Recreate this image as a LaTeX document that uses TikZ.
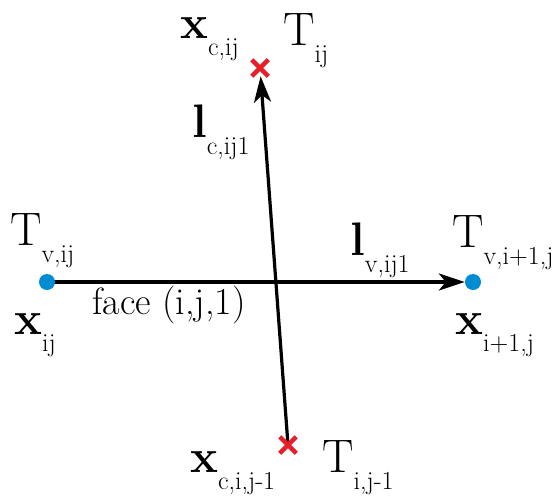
\documentclass[tikz,border=0pt]{standalone}
\usepackage{fontspec}
\usetikzlibrary{arrows.meta,positioning,shapes.misc,backgrounds}

\definecolor{azulpunto}{RGB}{0,140,210}
\definecolor{rojocruz}{RGB}{232,30,40}
\newcommand{\conindice}[2]{#1\raisebox{-17pt}{\fontsize{26}{28}\selectfont #2}}

\begin{document}
\begin{tikzpicture}[x=1pt, y=-1pt,
        punto/.style={circle, fill=azulpunto, inner sep=0, minimum size=16pt},
        cruz/.style={cross out, draw=rojocruz, line width=4.5pt, minimum size=12pt, inner sep=0},
        etiqueta/.style={anchor=base west, inner sep=0, text height=0.7em, font=\fontsize{47}{50}\selectfont},
        flecha/.style={-{Stealth[length=26pt, width=17pt, inset=7pt]}, line width=3.2pt}
    ]
        \useasboundingbox (0,0) rectangle (557,498);

        \node[punto] (xij) at (47,282) {};
        \node[punto] (xi1j) at (473,282) {};
        \node[cruz] (xcij) at (260,68) {};
        \node[cruz] (xcij1) at (288,445) {};

        \node[etiqueta] (tvij) at (10,245) {\conindice{T}{v,ij}};
        \node[etiqueta] (lxij) at (14,334) {\conindice{\textbf{x}}{ij}};
        \node[etiqueta, font=\fontsize{38}{40}\selectfont] (cara) at (92,314) {face (i,j,1)};
        \node[etiqueta] (lvij) at (350,255) {\conindice{\textbf{l}}{v,ij1}};
        \node[etiqueta] (tvi1j) at (452,247) {\conindice{T}{v,i+1,j}};
        \node[etiqueta] (lxi1j) at (455,334) {\conindice{\textbf{x}}{i+1,j}};
        \node[etiqueta] (lxcij) at (180,38) {\conindice{\textbf{x}}{c,ij}};
        \node[etiqueta] (tij) at (283,45) {\conindice{T}{ij}};
        \node[etiqueta] (lcij) at (192,137) {\conindice{\textbf{l}}{c,ij1}};
        \node[etiqueta] (lxcij1) at (190,472) {\conindice{\textbf{x}}{c,i,j-1}};
        \node[etiqueta] (tij1) at (322,472) {\conindice{T}{i,j-1}};

        \begin{scope}[on background layer]
        \draw[flecha] (xij.center) -- (xi1j);
        \draw[flecha] (xcij1.center) -- (xcij);
        \end{scope}
    \end{tikzpicture}
\end{document}
